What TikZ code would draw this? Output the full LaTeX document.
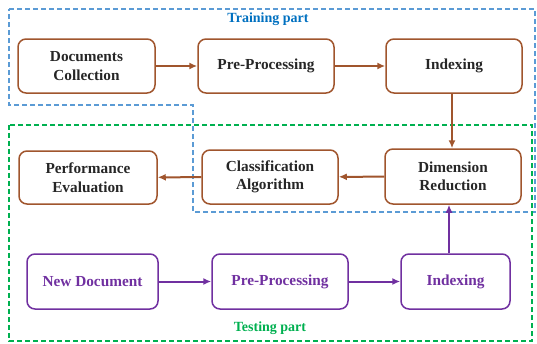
\documentclass[tikz,border=0pt]{standalone}
\usepackage{fontspec}
\setmainfont{Liberation Serif}
\usetikzlibrary{arrows.meta}
\definecolor{brn}{RGB}{160,85,45}
\definecolor{prp}{RGB}{112,48,160}
\definecolor{bluedash}{RGB}{91,155,213}
\definecolor{bluetxt}{RGB}{0,112,192}
\definecolor{grn}{RGB}{0,176,80}
\tikzset{
  trainbox/.style={draw=brn, line width=1.5pt, rounded corners=8pt, align=center, font=\bfseries\fontsize{15.3}{18.5}\selectfont, text=black!85},
  testbox/.style={draw=prp, line width=1.5pt, rounded corners=8pt, align=center, font=\bfseries\fontsize{15.3}{18.5}\selectfont, text=prp},
  brarrow/.style={draw=brn, line width=2pt, -{Latex[length=8pt,width=7pt]}},
  prarrow/.style={draw=prp, line width=2pt, -{Latex[length=8pt,width=7pt]}},
  region/.style={line width=1.5pt, dash pattern=on 5pt off 3pt},
}
\begin{document}
\begin{tikzpicture}[x=1pt,y=-1pt]
\useasboundingbox (0,0) rectangle (537,343);
% regions
\draw[region, draw=bluedash] (9,9) -- (535,9) -- (535,212) -- (193,212) -- (193,105) -- (9,105) -- cycle;
\draw[region, draw=grn] (9,125) rectangle (532,341);
\node[font=\bfseries\fontsize{14}{16}\selectfont, text=bluetxt] (trl) at (268,19) {Training part};
\node[font=\bfseries\fontsize{14}{16}\selectfont, text=grn] (tel) at (270,328) {Testing part};
% training nodes
\node[trainbox, minimum width=137pt, minimum height=54pt] (dc) at (86.5,66) {Documents\\Collection};
\node[trainbox, minimum width=136pt, minimum height=54pt] (pp) at (266,66) {Pre-Processing};
\node[trainbox, minimum width=136pt, minimum height=54pt] (ix) at (454,66) {Indexing};
\node[trainbox, minimum width=136pt, minimum height=55pt] (dr) at (453,176.5) {Dimension\\Reduction};
\node[trainbox, minimum width=136pt, minimum height=54pt] (ca) at (270,177) {Classification\\Algorithm};
\node[trainbox, minimum width=138pt, minimum height=53pt] (pe) at (88,177.5) {Performance\\Evaluation};
% testing nodes
\node[testbox, minimum width=131pt, minimum height=55pt] (nd) at (92.5,281.5) {New Document};
\node[testbox, minimum width=136pt, minimum height=55pt] (tp) at (280,281.5) {Pre-Processing};
\node[testbox, minimum width=109pt, minimum height=55pt] (ti) at (455.5,281.5) {Indexing};
% arrows
\draw[brarrow] (dc) -- (pp);
\draw[brarrow] (pp) -- (ix);
\draw[brarrow] (ix.south -| 452,0) -- (dr.north -| 452,0);
\draw[brarrow] (dr) -- (ca);
\draw[brarrow] (ca) -- (pe);
\draw[prarrow] (nd) -- (tp);
\draw[prarrow] (tp) -- (ti);
\draw[prarrow] (ti.north -| 449,0) -- (dr.south -| 449,0);
\end{tikzpicture}
\end{document}
